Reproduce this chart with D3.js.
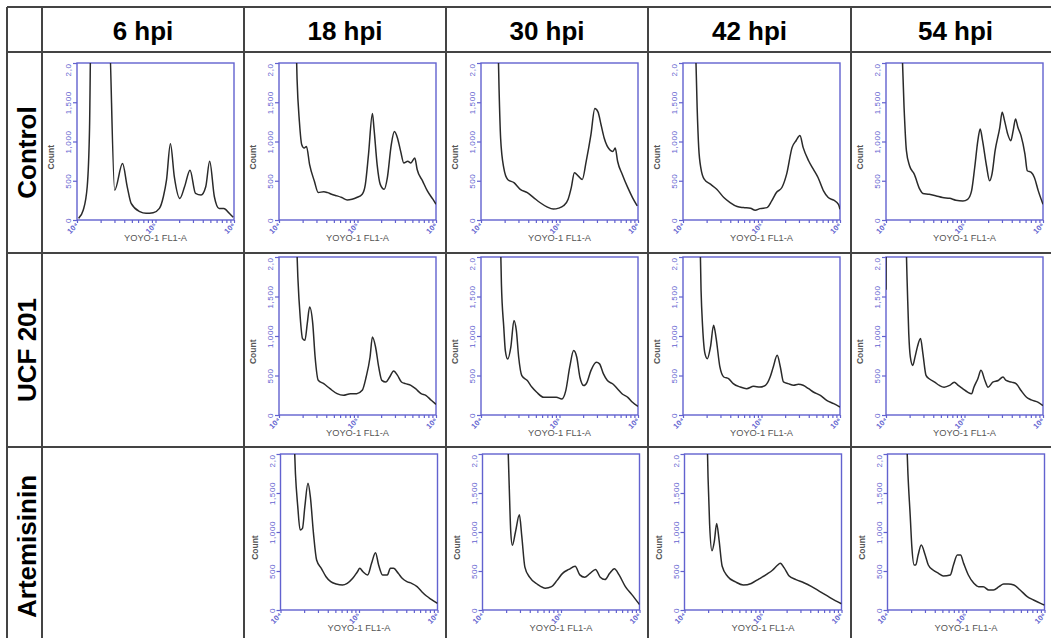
<!DOCTYPE html>
<html>
<head>
<meta charset="utf-8">
<script src="https://cdn.jsdelivr.net/npm/d3@7"></script>
<style>
  body { margin: 0; background: #fff; }
  svg { display: block; font-family: "Liberation Sans", Arial, sans-serif; }
</style>
</head>
<body>
<svg id="chart" width="1051" height="638"></svg>
<script>
// column / row headings
const timepoints = ['6 hpi', '18 hpi', '30 hpi', '42 hpi', '54 hpi']
const treatments = ['Control', 'UCF 201', 'Artemisinin']
const yTicks = [0, 500, 1000, 1500, 2000]
const xDecades = [4, 5, 6]

// histogram traces: [log10 YOYO-1 FL1-A, count] (counts above 2,000 run off the frame)
const control6 = [[4.02, 21], [4.08, 127], [4.13, 423], [4.16, 1184], [4.18, 2600], [4.40, 2600],
  [4.48, 380], [4.58, 719], [4.64, 423], [4.69, 211], [4.80, 106], [4.88, 85], [4.97, 93],
  [5.05, 148], [5.10, 296], [5.14, 507], [5.19, 972], [5.24, 550], [5.31, 275], [5.37, 423],
  [5.44, 634], [5.51, 338], [5.58, 317], [5.64, 423], [5.69, 748], [5.75, 296], [5.81, 148],
  [5.87, 148], [5.94, 85], [5.99, 34]]
const control18 = [[4.21, 2600], [4.23, 1798], [4.26, 1252], [4.29, 958], [4.32, 916], [4.35, 937],
  [4.39, 706], [4.45, 496], [4.50, 349], [4.57, 361], [4.62, 349], [4.67, 328], [4.74, 307],
  [4.80, 286], [4.87, 256], [4.93, 265], [4.99, 286], [5.06, 328], [5.10, 454], [5.14, 832],
  [5.19, 1357], [5.21, 1168], [5.25, 706], [5.29, 454], [5.34, 391], [5.38, 538], [5.43, 958],
  [5.47, 1126], [5.51, 1042], [5.55, 874], [5.59, 727], [5.64, 748], [5.68, 727], [5.73, 790],
  [5.76, 643], [5.83, 496], [5.89, 370], [5.96, 265], [6.00, 202]]
const control30 = [[4.21, 2600], [4.23, 1672], [4.25, 1042], [4.29, 664], [4.34, 517], [4.42, 475],
  [4.50, 391], [4.59, 349], [4.67, 286], [4.75, 223], [4.84, 168], [4.92, 139], [4.99, 151],
  [5.05, 181], [5.11, 265], [5.15, 412], [5.19, 601], [5.24, 559], [5.29, 517], [5.34, 748],
  [5.40, 1084], [5.45, 1420], [5.49, 1378], [5.53, 1210], [5.57, 1042], [5.64, 895], [5.68, 874],
  [5.71, 916], [5.74, 748], [5.80, 580], [5.87, 412], [5.93, 286], [5.99, 181]]
const control42 = [[4.15, 2600], [4.18, 1437], [4.20, 925], [4.23, 648], [4.27, 520], [4.35, 456],
  [4.43, 392], [4.52, 286], [4.60, 222], [4.69, 171], [4.77, 158], [4.86, 149], [4.92, 124],
  [4.98, 145], [5.07, 158], [5.13, 243], [5.19, 350], [5.26, 414], [5.32, 584], [5.39, 925],
  [5.44, 1010], [5.49, 1075], [5.53, 925], [5.60, 755], [5.66, 648], [5.72, 542], [5.79, 371],
  [5.85, 286], [5.92, 252], [5.98, 200], [6.00, 136]]
const control54 = [[4.19, 2600], [4.23, 1437], [4.26, 883], [4.30, 691], [4.36, 584], [4.43, 392],
  [4.47, 337], [4.55, 328], [4.64, 307], [4.72, 286], [4.81, 277], [4.89, 252], [4.98, 243],
  [5.04, 264], [5.09, 371], [5.13, 669], [5.17, 1010], [5.20, 1160], [5.23, 1010], [5.28, 691],
  [5.32, 499], [5.35, 584], [5.39, 883], [5.45, 1181], [5.48, 1373], [5.51, 1266], [5.55, 1096],
  [5.59, 1010], [5.62, 1138], [5.65, 1288], [5.68, 1181], [5.72, 1075], [5.77, 840], [5.80, 627],
  [5.85, 606], [5.89, 542], [5.94, 371], [6.00, 200]]
const ucf18 = [[4.21, 2600], [4.24, 1747], [4.27, 1240], [4.30, 966], [4.33, 945], [4.36, 1156],
  [4.39, 1367], [4.43, 1156], [4.46, 734], [4.50, 439], [4.57, 397], [4.65, 333], [4.74, 270],
  [4.82, 249], [4.91, 270], [4.99, 270], [5.06, 312], [5.11, 481], [5.16, 734], [5.19, 987],
  [5.23, 861], [5.27, 608], [5.31, 439], [5.36, 418], [5.41, 481], [5.46, 557], [5.51, 502],
  [5.56, 418], [5.61, 397], [5.68, 376], [5.74, 333], [5.81, 270], [5.87, 249], [5.94, 186],
  [6.00, 135]]
const ucf30 = [[4.24, 2600], [4.26, 1662], [4.29, 1112], [4.31, 816], [4.34, 710], [4.38, 858],
  [4.42, 1197], [4.45, 1070], [4.48, 731], [4.52, 499], [4.59, 436], [4.65, 351], [4.71, 288],
  [4.80, 224], [4.88, 224], [4.96, 224], [5.03, 203], [5.08, 309], [5.13, 605], [5.18, 816],
  [5.22, 731], [5.26, 478], [5.31, 372], [5.35, 414], [5.40, 562], [5.47, 668], [5.51, 647],
  [5.56, 520], [5.61, 436], [5.68, 393], [5.74, 330], [5.80, 266], [5.87, 224], [5.93, 161],
  [6.00, 110]]
const ucf42 = [[4.21, 2600], [4.23, 1578], [4.25, 1114], [4.28, 776], [4.31, 713], [4.35, 861],
  [4.39, 1135], [4.42, 987], [4.47, 608], [4.52, 481], [4.58, 460], [4.64, 397], [4.73, 354],
  [4.81, 333], [4.90, 363], [4.98, 354], [5.05, 376], [5.11, 481], [5.15, 608], [5.20, 755],
  [5.24, 608], [5.28, 418], [5.34, 397], [5.41, 376], [5.47, 388], [5.53, 376], [5.60, 333],
  [5.66, 291], [5.75, 249], [5.83, 186], [5.92, 143], [6.00, 101]]
const ucf54 = [[4.00, 1584], [4.003, 2600], [4.24, 2600], [4.27, 1669], [4.29, 1032], [4.31, 735],
  [4.34, 628], [4.37, 735], [4.40, 862], [4.44, 968], [4.47, 777], [4.51, 501], [4.55, 459],
  [4.62, 416], [4.68, 374], [4.74, 352], [4.81, 374], [4.87, 416], [4.92, 374], [4.98, 331],
  [5.04, 289], [5.09, 268], [5.12, 352], [5.17, 459], [5.21, 565], [5.26, 437], [5.30, 352],
  [5.36, 416], [5.43, 437], [5.49, 480], [5.53, 437], [5.60, 416], [5.66, 395], [5.72, 310],
  [5.79, 225], [5.85, 191], [5.94, 161], [6.00, 119]]
const art18 = [[4.16, 2600], [4.19, 1752], [4.22, 1325], [4.25, 1026], [4.28, 1047], [4.31, 1325],
  [4.35, 1624], [4.38, 1453], [4.42, 983], [4.46, 641], [4.52, 534], [4.58, 427], [4.64, 363],
  [4.71, 333], [4.79, 320], [4.85, 342], [4.92, 406], [4.98, 491], [5.01, 534], [5.05, 491],
  [5.11, 449], [5.16, 598], [5.21, 735], [5.25, 577], [5.30, 449], [5.36, 449], [5.40, 534],
  [5.44, 534], [5.50, 470], [5.55, 406], [5.61, 363], [5.67, 342], [5.74, 299], [5.80, 235],
  [5.86, 179], [5.92, 137], [6.00, 85]]
const art30 = [[4.31, 2600], [4.34, 1600], [4.36, 1000], [4.38, 830],
  [4.42, 1000], [4.47, 1220], [4.50, 950], [4.54, 550], [4.60, 420], [4.70, 330], [4.80, 280],
  [4.88, 300], [4.95, 380], [5.02, 470], [5.10, 520], [5.18, 560], [5.24, 450], [5.30, 420],
  [5.37, 470], [5.44, 520], [5.50, 420], [5.56, 390], [5.62, 470], [5.68, 530], [5.74, 450],
  [5.82, 300], [5.90, 200], [6.00, 70]]
const art42 = [[4.28, 2600], [4.30, 1700], [4.32, 1100], [4.35, 760], [4.38, 880], [4.41, 1110],
  [4.44, 900], [4.48, 560], [4.55, 430], [4.65, 360], [4.75, 320], [4.85, 340], [4.95, 400],
  [5.05, 460], [5.12, 510], [5.18, 570], [5.22, 600], [5.27, 540], [5.33, 440], [5.42, 390],
  [5.52, 350], [5.62, 300], [5.72, 240], [5.82, 180], [5.92, 120], [6.00, 80]]
const art54 = [[4.23, 2600], [4.26, 1752], [4.29, 1197], [4.31, 812], [4.34, 577], [4.36, 577],
  [4.39, 705], [4.43, 833], [4.48, 705], [4.52, 577], [4.58, 513], [4.65, 470], [4.71, 436],
  [4.80, 449], [4.84, 577], [4.89, 705], [4.93, 705], [4.97, 598], [5.03, 449], [5.10, 342],
  [5.16, 299], [5.22, 299], [5.29, 256], [5.35, 256], [5.42, 299], [5.48, 333], [5.54, 333],
  [5.61, 320], [5.69, 256], [5.78, 171], [5.86, 128], [5.95, 85], [6.00, 64]]

// which trace sits in which cell (row = treatment, col = timepoint); 6 hpi is empty for treated
const panels = [
  {row: 0, col: 0, data: control6}, {row: 0, col: 1, data: control18},
  {row: 0, col: 2, data: control30}, {row: 0, col: 3, data: control42},
  {row: 0, col: 4, data: control54},
  {row: 1, col: 1, data: ucf18}, {row: 1, col: 2, data: ucf30},
  {row: 1, col: 3, data: ucf42}, {row: 1, col: 4, data: ucf54},
  {row: 2, col: 1, data: art18}, {row: 2, col: 2, data: art30},
  {row: 2, col: 3, data: art42}, {row: 2, col: 4, data: art54}
]

// table geometry
const colEdges = [7, 42, 244, 446, 648, 851, 1060]
const rowEdges = [7, 52, 253, 447, 646]
const frameTop = [11, 4, 7]
const frameH = [157, 158, 156]
const frameLeft = [35, 35, 36.5]
const frameW = 157

const blue = '#6262cf'
const svg = d3.select('#chart')

// grid lines of the table
const grid = svg.append('g')
	.attr('stroke', '#444')
	.attr('stroke-width', 2)

grid.selectAll('.vline')
	.data(colEdges.slice(0, -1))
	.enter()
		.append('line')
		.attr('x1', (d) => d).attr('x2', (d) => d)
		.attr('y1', rowEdges[0]).attr('y2', rowEdges[rowEdges.length - 1])

grid.selectAll('.hline')
	.data(rowEdges)
	.enter()
		.append('line')
		.attr('x1', colEdges[0]).attr('x2', colEdges[colEdges.length - 1])
		.attr('y1', (d) => d).attr('y2', (d) => d)

// column headings
svg.selectAll('.col-title')
	.data(timepoints)
	.enter()
		.append('text')
		.attr('class', 'col-title')
		.attr('x', (d, i) => (colEdges[i + 1] + colEdges[i + 2]) / 2)
		.attr('y', 40)
		.attr('text-anchor', 'middle')
		.attr('font-size', 26)
		.attr('font-weight', 'bold')
		.text((d) => d)

// row headings, rotated
svg.selectAll('.row-title')
	.data(treatments)
	.enter()
		.append('text')
		.attr('class', 'row-title')
		.attr('transform', (d, i) => `translate(35.5,${(rowEdges[i + 1] + rowEdges[i + 2]) / 2}) rotate(-90)`)
		.attr('text-anchor', 'middle')
		.attr('font-size', 26)
		.attr('font-weight', 'bold')
		.text((d) => d)

const xTickValues = []
xDecades.slice(0, -1).forEach((p) => {
	for (let k = 1; k < 10; k++) xTickValues.push(k * Math.pow(10, p))
})
xTickValues.push(Math.pow(10, xDecades[xDecades.length - 1]))

const supers = {4: '\u2074', 5: '\u2075', 6: '\u2076'}

panels.forEach((p, i) => {
	const left = colEdges[p.col + 1] + frameLeft[p.row]
	const top = rowEdges[p.row + 1] + frameTop[p.row]
	const h = frameH[p.row]
	const w = frameW

	const x = d3.scaleLog().domain([1e4, 1e6]).range([0, w])
	const y = d3.scaleLinear().domain([0, 2000]).range([h, 0])

	const g = svg.append('g').attr('transform', `translate(${left},${top})`)

	g.append('clipPath')
		.attr('id', 'clip-' + i)
		.append('rect')
			.attr('width', w).attr('height', h)

	// x axis with log minor ticks
	const xAxis = g.append('g')
		.attr('transform', `translate(0,${h})`)
		.call(d3.axisBottom(x)
			.tickValues(xTickValues)
			.tickSize(3)
			.tickFormat((d) => {
				const e = Math.round(Math.log10(d))
				return Math.abs(Math.log10(d) - e) < 1e-9 ? '10' + supers[e] : ''
			}))
	xAxis.select('.domain').remove()
	xAxis.selectAll('line').attr('stroke', blue).attr('stroke-width', 1.2)
	xAxis.selectAll('text')
		.attr('y', 0).attr('dy', 0)
		.attr('transform', 'translate(-3,10) rotate(-45)')
		.attr('text-anchor', 'middle')
		.attr('font-size', 7.5)
		.attr('font-weight', 'bold')
		.attr('fill', blue)

	// y axis, rotated labels
	const yAxis = g.append('g')
		.call(d3.axisLeft(y)
			.tickValues(yTicks)
			.tickSize(4)
			.tickFormat((d) => d === 2000 ? '2,0' : d3.format(',')(d)))
	yAxis.select('.domain').remove()
	yAxis.selectAll('line').attr('stroke', blue).attr('stroke-width', 1.2)
	yAxis.selectAll('text')
		.attr('x', 0).attr('y', -6).attr('dy', 0)
		.attr('transform', 'rotate(-90)')
		.attr('text-anchor', (d) => d === 2000 ? 'end' : 'middle')
		.attr('font-size', 8)
		.attr('letter-spacing', 0.6)
		.attr('font-family', '"Liberation Sans", Arial, sans-serif')
		.attr('fill', blue)

	// frame
	g.append('rect')
		.attr('width', w).attr('height', h)
		.attr('fill', 'none')
		.attr('stroke', blue)
		.attr('stroke-width', 1.4)

	// histogram trace
	const line = d3.line()
		.curve(d3.curveMonotoneX)
		.x((d) => x(Math.pow(10, d[0])))
		.y((d) => y(d[1]))

	g.append('path')
		.datum(p.data)
		.attr('clip-path', `url(#clip-${i})`)
		.attr('d', line)
		.attr('fill', 'none')
		.attr('stroke', '#2a2a2a')
		.attr('stroke-width', 1.5)
		.attr('stroke-linejoin', 'round')

	g.append('text')
		.attr('transform', `translate(-23,${h * 0.6}) rotate(-90)`)
		.attr('text-anchor', 'middle')
		.attr('font-size', 8.5)
		.attr('font-weight', 'bold')
		.attr('fill', '#555')
		.text('Count')

	g.append('text')
		.attr('x', w / 2)
		.attr('y', h + 21)
		.attr('text-anchor', 'middle')
		.attr('font-size', 9.3)
		.attr('fill', '#555')
		.text('YOYO-1 FL1-A')
})
</script>
</body>
</html>
